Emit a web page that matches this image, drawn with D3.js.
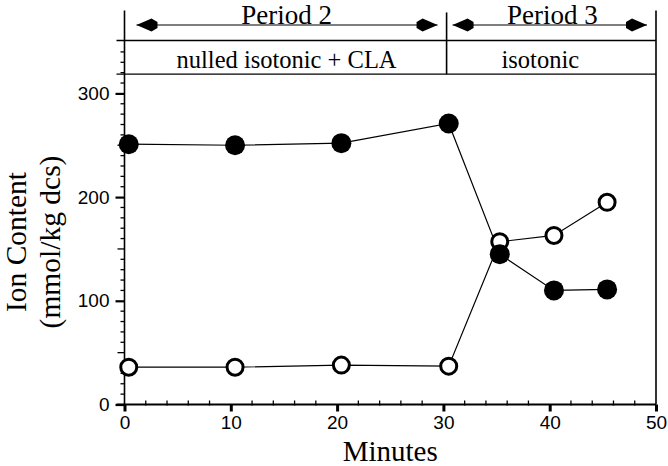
<!DOCTYPE html>
<html><head><meta charset="utf-8">
<script src="https://cdn.jsdelivr.net/npm/d3@7"></script>
<style>body{margin:0;background:#fff}svg{display:block}</style>
</head><body>
<svg id="c" width="668" height="466"></svg>
<script>
const minutes = [0.4, 10.4, 20.4, 30.5, 35.3, 40.4, 45.4];
const filledSeries = [251, 250, 252, 271, 145, 110, 111];
const openSeries = [36, 36, 38, 37, 157, 163, 195];
const xTicks = [0, 10, 20, 30, 40, 50];
const yTicks = [0, 100, 200, 300];
const periods = [
  {label: "Period 2", from: 0, to: 30.3, solution: "nulled isotonic + CLA"},
  {label: "Period 3", from: 30.3, to: 50, solution: "isotonic"}
];

const svg = d3.select("#c");
const x = d3.scaleLinear().domain([0, 50]).range([124.5, 656]);
const y = d3.scaleLinear().domain([0, 300]).range([404.5, 93.4]);
const yTop = y(380);
const hLine1 = y(351), hLine2 = y(318.5);
const serif = "'Liberation Serif', 'Times New Roman', serif";
const sans = "'Liberation Sans', Arial, sans-serif";

// frame verticals
svg.append("line").attr("x1", x(0)).attr("x2", x(0)).attr("y1", yTop).attr("y2", y(0)).attr("stroke", "#000").attr("stroke-width", 1.6);
svg.append("line").attr("x1", x(50)).attr("x2", x(50)).attr("y1", yTop).attr("y2", y(0)).attr("stroke", "#000").attr("stroke-width", 1.6);
svg.append("line").attr("x1", x(30.3)).attr("x2", x(30.3)).attr("y1", yTop + 2).attr("y2", hLine2).attr("stroke", "#000").attr("stroke-width", 1.6);
// header horizontals
[hLine1, hLine2].forEach(h => svg.append("line").attr("x1", x(0) - 8).attr("x2", x(50)).attr("y1", h).attr("y2", h).attr("stroke", "#000").attr("stroke-width", 1.3));

// y axis
const yAxis = d3.axisLeft(y).tickValues(yTicks).tickSize(9).tickPadding(6);
const gy = svg.append("g").attr("transform", `translate(${x(0)},0)`).call(yAxis);
gy.select(".domain").remove();
gy.selectAll(".tick line").attr("stroke-width", 2.2);
gy.selectAll("text").style("font-family", sans).attr("font-size", 19).attr("fill", "#000");
const yMinor = d3.range(10, 350, 10).filter(v => !yTicks.includes(v));
svg.append("g").selectAll("line").data(yMinor).join("line")
  .attr("x1", v => x(0) - (v % 50 === 0 ? 7 : 4)).attr("x2", x(0))
  .attr("y1", v => y(v)).attr("y2", v => y(v)).attr("stroke", "#000").attr("stroke-width", 1.3);

// x axis
const xAxis = d3.axisBottom(x).tickValues(xTicks).tickSize(7).tickPadding(4);
const gx = svg.append("g").attr("transform", `translate(0,${y(0)})`).call(xAxis);
gx.select(".domain").attr("d", `M${x(0) - 8},0H${x(50)}`).attr("stroke-width", 2);
gx.selectAll(".tick line").attr("stroke-width", 3);
gx.selectAll("text").style("font-family", sans).attr("font-size", 19).attr("fill", "#000");
const xMinor = d3.range(2, 50, 2).filter(v => v % 10 !== 0);
svg.append("g").selectAll("line").data(xMinor).join("line")
  .attr("x1", v => x(v)).attr("x2", v => x(v))
  .attr("y1", y(0) - 4).attr("y2", y(0) + 1).attr("stroke", "#000").attr("stroke-width", 1.3);

// header text and arrows
const arrowY = 25;
function arrowHead(tipX, dir) {
  const s = -dir;
  const p = `M${tipX},${arrowY} L${tipX + s * 15},${arrowY - 6.5} L${tipX + s * 21},${arrowY - 3} L${tipX + s * 21},${arrowY + 3} L${tipX + s * 15},${arrowY + 6.5} Z`;
  svg.append("path").attr("d", p).attr("fill", "#000");
}
periods.forEach((p, i) => {
  const a = x(p.from) + (i === 0 ? 12 : 6), b = x(p.to) - 9;
  svg.append("line").attr("x1", a).attr("x2", b).attr("y1", arrowY).attr("y2", arrowY).attr("stroke", "#000").attr("stroke-width", 1);
  arrowHead(a, -1);
  arrowHead(b, 1);
  const cx = (x(p.from) + x(p.to)) / 2 + 1;
  svg.append("text").attr("x", cx).attr("y", 24).attr("text-anchor", "middle")
    .style("font-family", serif).attr("font-size", 27).text(p.label);
  svg.append("text").attr("x", i === 0 ? cx : cx - 12).attr("y", 68).attr("text-anchor", "middle")
    .style("font-family", serif).attr("font-size", 24.5).text(p.solution);
});

// axis titles
svg.append("text").attr("x", x(25)).attr("y", 461).attr("text-anchor", "middle")
  .style("font-family", serif).attr("font-size", 29).text("Minutes");
const yt = svg.append("text").attr("transform", `translate(26,242) rotate(-90)`).attr("text-anchor", "middle")
  .style("font-family", serif).attr("font-size", 29.5);
yt.append("tspan").attr("x", 0).attr("dy", 0).text("Ion Content");
yt.append("tspan").attr("x", 0).attr("dy", 34).text("(mmol/kg dcs)");

// series lines
const line = d3.line().x((d, i) => x(minutes[i])).y(d => y(d));
svg.append("path").datum(openSeries).attr("d", line).attr("fill", "none").attr("stroke", "#000").attr("stroke-width", 1.2);
svg.append("path").datum(filledSeries).attr("d", line).attr("fill", "none").attr("stroke", "#000").attr("stroke-width", 1.2);

// points
svg.append("g").selectAll("circle").data(openSeries).join("circle")
  .attr("cx", (d, i) => x(minutes[i])).attr("cy", d => y(d)).attr("r", 8)
  .attr("fill", "#fff").attr("stroke", "#000").attr("stroke-width", 3);
svg.append("g").selectAll("circle").data(filledSeries).join("circle")
  .attr("cx", (d, i) => x(minutes[i])).attr("cy", d => y(d)).attr("r", 10)
  .attr("fill", "#000");
</script>
</body></html>
